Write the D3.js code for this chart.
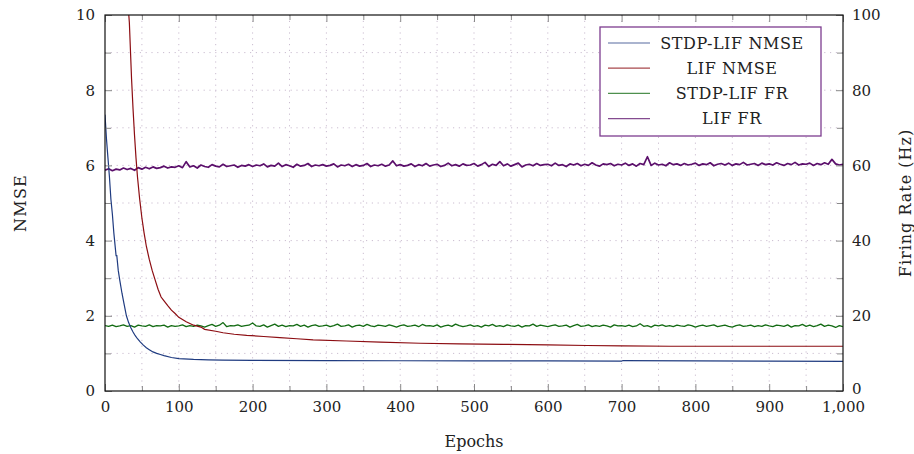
<!DOCTYPE html>
<html>
<head>
<meta charset="utf-8">
<script src="https://cdn.jsdelivr.net/npm/d3@7"></script>
<style>
  html, body { margin: 0; padding: 0; background: #fff; }
  svg { display: block; }
  text { font-family: "DejaVu Serif", "Liberation Serif", serif; fill: #222; }
</style>
</head>
<body>
<svg id="chart" width="914" height="454"></svg>
<script>
// ---------------- DATA ----------------
const xTicksMajor = [0, 100, 200, 300, 400, 500, 600, 700, 800, 900, 1000];
const yLeftTicks = [0, 2, 4, 6, 8, 10];
const yRightTicks = [0, 20, 40, 60, 80, 100];
const seriesNames = ["STDP-LIF NMSE", "LIF NMSE", "STDP-LIF FR", "LIF FR"];

// STDP-LIF NMSE (epoch, value)
const stdpNmseEpochs = [0, 2, 4, 6, 8, 10, 12, 14, 15, 16, 18, 20, 23, 26, 29, 32, 35, 38, 41, 44, 48, 52, 56, 60, 65, 70, 75, 80, 90, 100, 120, 140, 160, 200, 300, 400, 500, 600, 700, 702, 800, 900, 1000];
const stdpNmseValues = [7.35, 6.7, 6.2, 5.7, 5.1, 4.7, 4.2, 3.8, 3.6, 3.6, 3.2, 2.95, 2.6, 2.3, 2.0, 1.82, 1.68, 1.57, 1.47, 1.39, 1.30, 1.22, 1.15, 1.10, 1.04, 1.00, 0.97, 0.94, 0.89, 0.86, 0.84, 0.83, 0.82, 0.815, 0.81, 0.805, 0.80, 0.80, 0.795, 0.81, 0.80, 0.795, 0.79];

// LIF NMSE (epoch, value)
const lifNmseEpochs = [28, 30, 33, 36, 38, 40, 42, 44, 47, 50, 53, 56, 60, 64, 68, 72, 76, 80, 85, 90, 95, 100, 110, 120, 130, 135, 150, 160, 175, 192, 215, 237, 260, 282, 327, 373, 427, 480, 540, 600, 653, 700, 766, 850, 1000];
const lifNmseValues = [11.4, 10.6, 9.8, 8.3, 7.5, 6.8, 6.2, 5.7, 5.1, 4.6, 4.2, 3.85, 3.5, 3.2, 2.95, 2.7, 2.5, 2.4, 2.27, 2.15, 2.06, 1.96, 1.84, 1.75, 1.70, 1.64, 1.59, 1.55, 1.51, 1.48, 1.45, 1.42, 1.39, 1.36, 1.33, 1.30, 1.27, 1.255, 1.24, 1.225, 1.21, 1.20, 1.19, 1.19, 1.19];

// Firing-rate series, one value every 5 epochs (0..1000), in Hz
const frEpochStep = 5;
const stdpFrValues = [
  17.4,17.2,17.5,17.1,17.3,17.6,17.2,17.4,17.0,17.5,17.3,17.2,17.6,17.1,17.4,17.3,17.5,17.0,17.4,17.2,
  17.3,17.6,17.1,17.4,17.2,17.5,17.3,17.0,17.4,17.7,17.2,17.5,18.2,17.1,17.4,17.3,17.6,17.2,17.4,17.5,
  18.1,17.3,17.2,17.6,17.0,17.4,17.8,17.2,17.5,17.1,17.4,17.3,17.7,17.2,17.5,17.0,17.4,17.6,17.2,17.3,
  17.5,17.1,17.4,17.8,17.2,17.3,17.6,17.0,17.4,17.5,17.2,17.7,17.3,17.1,17.5,17.4,17.2,17.6,17.3,17.0,
  17.4,17.6,17.2,17.3,17.5,17.1,17.7,17.3,17.4,17.2,17.6,17.0,17.3,17.5,17.2,17.8,17.4,17.1,17.3,17.6,
  17.2,17.4,17.0,17.5,17.3,17.7,17.2,17.4,17.1,17.6,17.3,17.2,17.5,17.0,17.4,17.3,17.8,17.2,17.5,17.3,
  17.1,17.4,17.6,17.2,17.3,17.5,17.0,17.4,17.7,17.2,17.3,17.6,17.1,17.4,17.2,17.5,17.3,17.0,17.6,17.3,
  17.4,17.2,17.5,17.1,17.3,17.9,17.2,17.4,17.0,17.5,17.3,17.6,17.2,17.4,17.1,17.5,17.3,17.2,17.6,17.4,
  17.0,17.3,17.5,17.2,17.4,17.6,17.1,17.3,17.5,17.2,17.0,17.4,17.6,17.2,17.3,17.5,17.1,17.4,17.2,17.6,
  17.3,17.1,17.5,17.4,17.2,17.6,17.0,17.4,17.3,17.7,17.2,17.5,17.1,17.4,17.8,17.2,17.5,17.3,16.9,17.4,17.1
];
const lifFrValues = [
  58.7,59.1,58.6,59.0,58.8,59.3,58.9,59.2,58.7,59.4,59.0,59.5,59.1,59.6,59.2,59.4,59.8,59.3,59.6,59.5,
  59.9,59.4,61.0,59.6,59.9,59.3,60.1,59.7,59.5,60.2,59.8,59.6,60.3,59.7,59.9,60.1,59.5,60.0,59.8,60.2,
  59.7,60.1,59.9,60.4,59.6,60.0,59.8,60.6,59.7,60.2,59.9,59.5,60.3,59.8,60.0,60.5,59.7,60.1,59.9,60.2,
  59.8,60.0,60.4,59.6,60.1,59.9,60.3,59.7,60.2,59.8,60.0,60.5,59.7,60.1,59.9,60.3,59.8,60.1,61.2,59.9,
  60.2,59.8,60.0,60.4,59.7,60.2,59.9,60.5,59.8,60.1,60.3,59.7,60.0,60.6,59.9,60.2,59.8,60.4,60.0,60.1,
  60.5,59.8,60.2,60.8,59.7,60.3,60.0,61.0,59.9,60.4,59.8,60.2,60.6,59.6,60.1,60.3,59.9,60.5,60.0,60.2,
  60.3,59.9,60.6,60.0,60.2,59.7,60.4,60.1,60.5,59.9,60.3,60.0,60.7,60.1,59.8,60.4,60.2,60.5,59.9,60.3,
  60.1,60.6,60.0,60.4,59.8,60.5,60.2,62.3,60.0,60.6,60.1,60.3,59.9,60.7,60.2,60.4,60.0,60.5,60.1,60.3,
  60.6,60.0,60.4,60.2,60.7,59.9,60.3,60.5,60.1,60.6,60.0,60.4,60.2,60.8,60.1,60.3,60.5,60.0,60.6,60.2,
  60.4,60.1,60.7,60.3,60.0,60.5,60.2,60.8,60.1,60.4,60.3,60.6,60.0,60.5,60.2,60.7,60.3,61.6,60.4,60.1,60.3
];

const seriesColors = ["#1f3b80", "#8c0d12", "#136b13", "#5b0f6b"];

// ---------------- LAYOUT ----------------
const svg = d3.select("#chart");
const L = 105, R = 843, T = 15, B = 391;
const FS = 15;

const x = d3.scaleLinear().domain([0, 1000]).range([L, R]);
const yL = d3.scaleLinear().domain([0, 10]).range([B, T]);
const yR = d3.scaleLinear().domain([0, 100]).range([B, T]);

svg.append("defs").append("clipPath").attr("id", "plotclip")
  .append("rect").attr("x", L).attr("y", T).attr("width", R - L).attr("height", B - T);

// grid
const gridColor = "#cbbdd0";
const grid = svg.append("g");
grid.selectAll("line.h").data(d3.range(1, 10)).join("line")
  .attr("x1", L).attr("x2", R).attr("y1", d => yL(d)).attr("y2", d => yL(d))
  .attr("stroke", gridColor).attr("stroke-width", 1).attr("stroke-dasharray", "1.2,4.6");
grid.selectAll("line.v").data(d3.range(50, 1000, 50)).join("line")
  .attr("y1", T).attr("y2", B).attr("x1", d => x(d)).attr("x2", d => x(d))
  .attr("stroke", gridColor).attr("stroke-width", 1).attr("stroke-dasharray", "1.2,4.6");

// series
const lineL = d3.line().x(d => x(d[0])).y(d => yL(d[1]));
const lineR = d3.line().x(d => x(d[0])).y(d => yR(d[1]));
const plot = svg.append("g").attr("clip-path", "url(#plotclip)");

const frEpochs = stdpFrValues.map((_, i) => i * frEpochStep);
const stdpNmse = stdpNmseEpochs.map((e, i) => [e, stdpNmseValues[i]]);
const lifNmse = lifNmseEpochs.map((e, i) => [e, lifNmseValues[i]]);
const stdpFr = frEpochs.map((e, i) => [e, stdpFrValues[i]]);
const lifFr = frEpochs.map((e, i) => [e, lifFrValues[i]]);

plot.append("path").attr("d", lineR(lifFr)).attr("fill", "none").attr("stroke", seriesColors[3]).attr("stroke-width", 1.7).attr("stroke-linejoin", "round");
plot.append("path").attr("d", lineR(stdpFr)).attr("fill", "none").attr("stroke", seriesColors[2]).attr("stroke-width", 1.3).attr("stroke-linejoin", "round");
plot.append("path").attr("d", lineL(lifNmse)).attr("fill", "none").attr("stroke", seriesColors[1]).attr("stroke-width", 1.2);
plot.append("path").attr("d", lineL(stdpNmse)).attr("fill", "none").attr("stroke", seriesColors[0]).attr("stroke-width", 1.2);

// axes
const tickColor = "#8a8a8a";
function styleAxis(g) {
  g.select(".domain").remove();
  g.selectAll(".tick line").attr("stroke", tickColor).attr("stroke-width", 1);
  g.selectAll(".tick text").style("font-family", '"DejaVu Serif", serif').style("font-size", FS + "px").attr("fill", "#222");
}
// bottom
svg.append("g").attr("transform", `translate(0,${B})`)
  .call(d3.axisBottom(x).tickValues(d3.range(50, 1000, 100)).tickSize(-5).tickFormat(""))
  .call(styleAxis);
svg.append("g").attr("transform", `translate(0,${B})`)
  .call(d3.axisBottom(x).tickValues(xTicksMajor).tickSize(-7).tickPadding(10).tickFormat(d3.format(",")))
  .call(styleAxis);
// top
svg.append("g").attr("transform", `translate(0,${T})`)
  .call(d3.axisTop(x).tickValues(d3.range(50, 1000, 100)).tickSize(-5).tickFormat(""))
  .call(styleAxis);
svg.append("g").attr("transform", `translate(0,${T})`)
  .call(d3.axisTop(x).tickValues(xTicksMajor).tickSize(-7).tickFormat(""))
  .call(styleAxis);
// left
svg.append("g").attr("transform", `translate(${L},0)`)
  .call(d3.axisLeft(yL).tickValues([1, 3, 5, 7, 9]).tickSize(-6).tickFormat(""))
  .call(styleAxis);
svg.append("g").attr("transform", `translate(${L},0)`)
  .call(d3.axisLeft(yL).tickValues(yLeftTicks).tickSize(-7).tickPadding(10).tickFormat(d3.format("d")))
  .call(styleAxis);
// right
svg.append("g").attr("transform", `translate(${R},0)`)
  .call(d3.axisRight(yR).tickValues([10, 30, 50, 70, 90]).tickSize(-6).tickFormat(""))
  .call(styleAxis);
const rightAxis = svg.append("g").attr("transform", `translate(${R},0)`)
  .call(d3.axisRight(yR).tickValues(yRightTicks).tickSize(-7).tickPadding(9).tickFormat(d3.format("d")))
  .call(styleAxis);
rightAxis.selectAll(".tick text").filter(d => d === 0).attr("dy", "0.15em");

// frame
svg.append("rect").attr("x", L).attr("y", T).attr("width", R - L).attr("height", B - T)
  .attr("fill", "none").attr("stroke", "#111").attr("stroke-width", 1.2);

// axis titles
svg.append("text").attr("x", 474).attr("y", 447).attr("text-anchor", "middle")
  .style("font-size", "16px").text("Epochs");
svg.append("text").attr("transform", `translate(26,${(T + B) / 2}) rotate(-90)`).attr("text-anchor", "middle")
  .style("font-size", "16px").style("letter-spacing", "1.2px").text("NMSE");
svg.append("text").attr("transform", `translate(911,${(T + B) / 2}) rotate(-90)`).attr("text-anchor", "middle")
  .style("font-size", "16px").style("letter-spacing", "1px").text("Firing Rate (Hz)");

// legend
const lg = svg.append("g");
lg.append("rect").attr("x", 600).attr("y", 27).attr("width", 221).attr("height", 109)
  .attr("fill", "#fff").attr("stroke", "#7d3c8f").attr("stroke-width", 1.3);
seriesNames.forEach((name, i) => {
  const yy = 43 + i * 25.2;
  lg.append("line").attr("x1", 608).attr("x2", 650).attr("y1", yy).attr("y2", yy)
    .attr("stroke", seriesColors[i]).attr("stroke-width", 1.2).attr("opacity", 0.75);
  lg.append("text").attr("x", 732).attr("y", yy).attr("dy", "0.36em").attr("text-anchor", "middle")
    .style("font-size", "16px").style("letter-spacing", "0.6px").text(name);
});
</script>
</body>
</html>
